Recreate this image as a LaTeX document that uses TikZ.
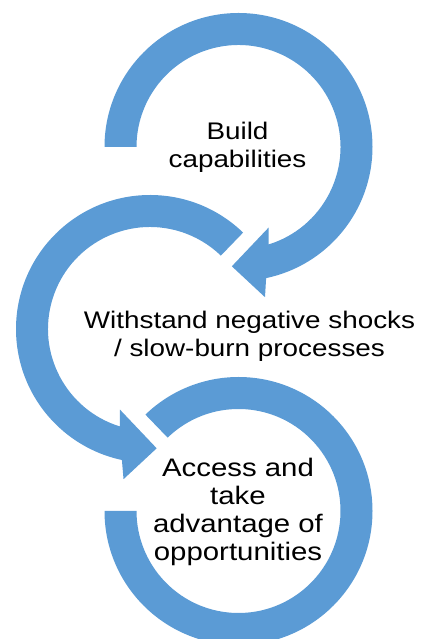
\documentclass[tikz,border=0pt]{standalone}
\usepackage{fontspec}
\setmainfont{Liberation Sans}[FakeStretch=1.16]
\usepackage{tikz}
\usetikzlibrary{calc}
\definecolor{ringblue}{HTML}{5B9BD5}

\begin{document}
\begin{tikzpicture}[x=0.75pt, y=0.75pt,
    band/.style={fill=ringblue, draw=none},
    steptext/.style={align=center, inner sep=0pt, font=\fontsize{18}{21}\selectfont}]
  \useasboundingbox (0,0) rectangle (423,639);
  \clip (0,0) rectangle (423,639);

  % centres of the three rings
  \coordinate (c1) at (238.5,492);
  \coordinate (c2) at (150,310);
  \coordinate (c3) at (238.5,128);

  % top ring, head at the bottom pointing left
  \fill[band] ($(c1)+(180:134)$) arc[start angle=180, end angle=-78.1, radius=134]
    -- ($(c1)+(-80:152.5)$) -- ($(c1)+(-93.2:119.5)$) -- ($(c1)+(-69.5:86)$)
    -- ($(c1)+(-72.8:102)$) arc[start angle=-72.8, end angle=180, radius=102] -- cycle;

  % middle ring, head at the bottom pointing right
  \fill[band] ($(c2)+(46:134)$) arc[start angle=46, end angle=257.9, radius=134]
    -- ($(c2)+(260:152.5)$) -- ($(c2)+(273.2:119.5)$) -- ($(c2)+(249.5:86)$)
    -- ($(c2)+(252.8:102)$) arc[start angle=252.8, end angle=46, radius=102] -- cycle;

  % bottom ring, no head
  \fill[band] ($(c3)+(180:134)$) arc[start angle=180, end angle=494, radius=134]
    -- ($(c3)+(134:102)$) arc[start angle=494, end angle=180, radius=102] -- cycle;

  % labels
  \node[steptext] (build) at (237.5,491.6) {Build\\capabilities};
  \node[steptext] (withstand) at (249.5,303.2) {Withstand negative shocks\\/ slow-burn processes};
  \node[steptext, font=\fontsize{19}{21}\selectfont] (access) at (238,127) {Access and\\take\\advantage of\\opportunities};
\end{tikzpicture}
\end{document}
